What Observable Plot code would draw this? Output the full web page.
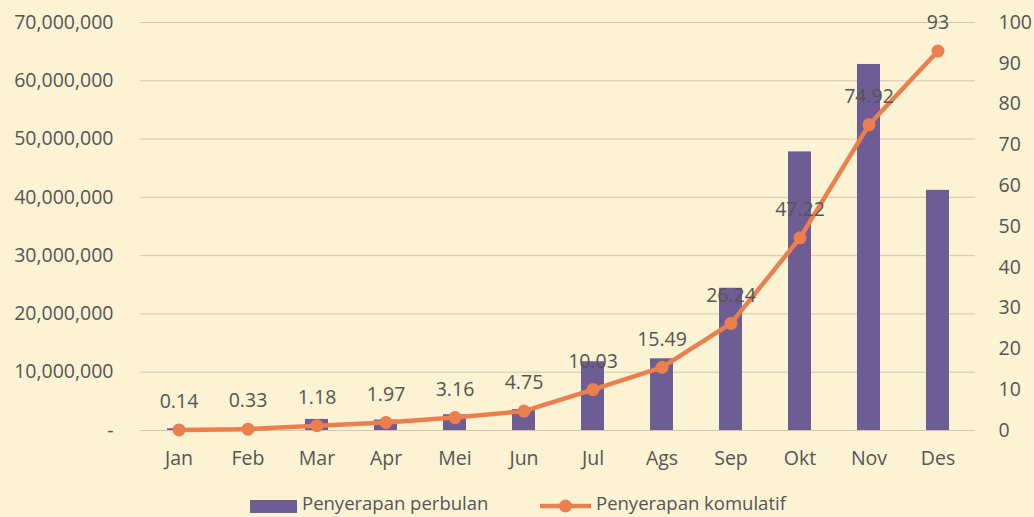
<!DOCTYPE html>
<html>
<head>
<meta charset="utf-8">
<script src="https://cdn.jsdelivr.net/npm/d3@7"></script>
<script src="https://cdn.jsdelivr.net/npm/@observablehq/plot@0.6"></script>
<style>
  html, body { margin: 0; padding: 0; background: #fbf3d4; }
  body { width: 1034px; height: 517px; overflow: hidden; position: relative; font-family: "Open Sans", sans-serif; }
  #chart { position: absolute; left: 0; top: 0; }
  #legend { position: absolute; left: 0; top: 491px; width: 1034px; height: 25px; font-size: 18.5px; line-height: 24px; color: #555; }
  .item { position: absolute; top: 0; display: flex; align-items: center; gap: 5px; }
</style>
</head>
<body>
<div id="chart"></div>
<div id="legend"></div>
<script>
const months = ["Jan","Feb","Mar","Apr","Mei","Jun","Jul","Ags","Sep","Okt","Nov","Des"];
const monthly = [300000, 430000, 1900000, 1800000, 2700000, 3600000, 11800000, 12300000, 24400000, 47800000, 62800000, 41200000];
const cumulative = [0.14, 0.33, 1.18, 1.97, 3.16, 4.75, 10.03, 15.49, 26.24, 47.22, 74.92, 93];
const cumLabels = ["0.14","0.33","1.18","1.97","3.16","4.75","10.03","15.49","26.24","47.22","74.92","93"];
const leftTicks = [0, 10000000, 20000000, 30000000, 40000000, 50000000, 60000000, 70000000];
const rightTicks = [0,10,20,30,40,50,60,70,80,90,100];
const seriesNames = ["Penyerapan perbulan", "Penyerapan komulatif"];

const barColor = "#6e5c94";
const lineColor = "#ec7f4e";
const textColor = "#555555";
const k = 700000; // 100% on right axis = 70,000,000 on left axis

const data = months.map((m, i) => ({month: m, value: monthly[i], cum: cumulative[i], cumY: cumulative[i] * k, label: cumLabels[i]}));

const fs = 19.5;
const chart = Plot.plot({
  width: 1034,
  height: 490,
  marginLeft: 140,
  marginRight: 59,
  marginTop: 22,
  marginBottom: 60,
  style: {background: "transparent", fontFamily: "'Open Sans', sans-serif", fontSize: fs + "px", color: textColor},
  x: {domain: months, paddingInner: 0.67, paddingOuter: 0.335, label: null},
  y: {domain: [0, 70000000], label: null},
  marks: [
    Plot.ruleY(leftTicks, {stroke: "#d2c6aa", strokeWidth: 1}),
    Plot.axisY(leftTicks, {anchor: "left", tickSize: 0, tickPadding: 27, label: null,
      tickFormat: d => d === 0 ? "-" : d3.format(",")(d), fill: textColor, fontSize: fs}),
    Plot.axisY(rightTicks.map(d => d * k), {anchor: "right", tickSize: 0, tickPadding: 23, label: null,
      tickFormat: d => String(Math.round(d / k)), fill: textColor, fontSize: fs, textAnchor: "start"}),
    Plot.axisX({tickSize: 0, tickPadding: 21, label: null, fill: textColor, fontSize: fs}),
    Plot.barY(data, {x: "month", y: "value", fill: barColor}),
    Plot.line(data, {x: "month", y: "cumY", stroke: lineColor, strokeWidth: 4.5, curve: "linear"}),
    Plot.dot(data, {x: "month", y: "cumY", r: 6.5, fill: lineColor}),
    Plot.text(data, {x: "month", y: "cumY", text: "label", dy: -28, fill: textColor, fontSize: fs})
  ]
});
document.getElementById("chart").appendChild(chart);

const legend = document.getElementById("legend");
legend.innerHTML = `
  <div class="item" style="left:250px">
    <svg width="47" height="24"><rect x="0" y="9" width="47" height="13" fill="${barColor}"/></svg>
    <span>${seriesNames[0]}</span>
  </div>
  <div class="item" style="left:540px">
    <svg width="51" height="24"><line x1="0" y1="15" x2="51" y2="15" stroke="${lineColor}" stroke-width="4.5"/><circle cx="25.5" cy="15" r="6.5" fill="${lineColor}"/></svg>
    <span>${seriesNames[1]}</span>
  </div>`;
</script>
</body>
</html>
